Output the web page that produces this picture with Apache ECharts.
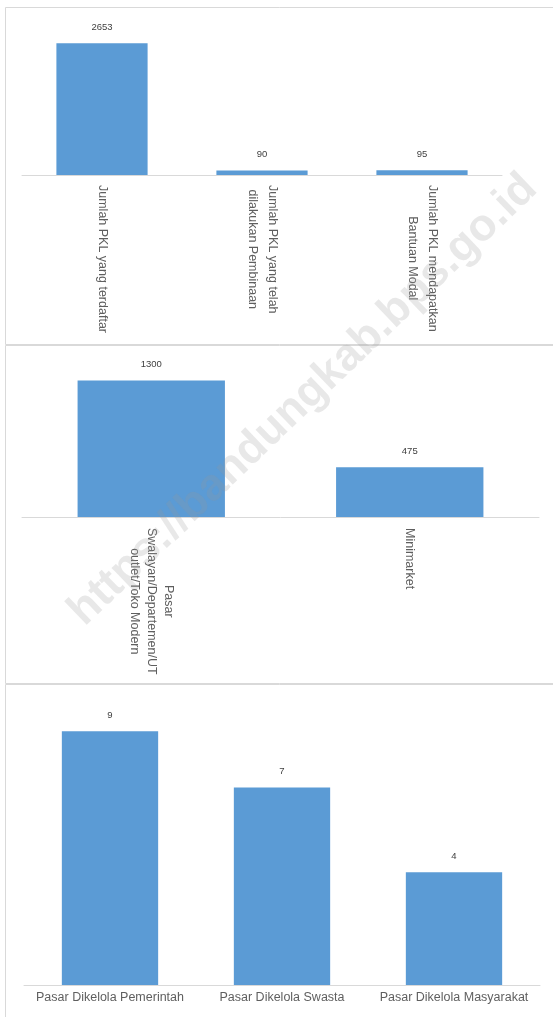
<!DOCTYPE html>
<html><head><meta charset="utf-8">
<script src="https://cdn.jsdelivr.net/npm/echarts@6/dist/echarts.min.js"></script>
<style>html,body{margin:0;padding:0;background:#fff}#c{width:553px;height:1017px}</style>
</head><body><div id="c"></div>
<script>
// ---- data ----
const pklCategories = ['Jumlah PKL yang terdaftar', 'Jumlah PKL yang telah\ndilakukan Pembinaan', 'Jumlah PKL mendapatkan\nBantuan Modal'];
const pklValues = [2653, 90, 95];
const tokoCategories = ['Pasar\nSwalayan/Departemen/UT\noutlet/Toko Modern', 'Minimarket'];
const tokoValues = [1300, 475];
const pasarCategories = ['Pasar Dikelola Pemerintah', 'Pasar Dikelola Swasta', 'Pasar Dikelola Masyarakat'];
const pasarValues = [9, 7, 4];
const watermarkText = 'https://bandungkab.bps.go.id';

// ---- styles ----
const FONT = '"Liberation Sans", Arial, sans-serif';
const BAR = '#5b9bd5';
const TXT = '#5f5f5f';
const LINE = '#d9d9d9';
const FS = 12.5;

function rotLabel(lh, margin) {
  return {
    interval: 0, rotate: -90, margin: margin, color: TXT, fontFamily: FONT, fontSize: FS,
    formatter: v => v.split('\n').map(l => '{c|' + l + '}').join('\n'),
    rich: { c: { align: 'center', fontSize: FS, lineHeight: lh, color: TXT, fontFamily: FONT } }
  };
}
function xAx(idx, cats, label) {
  return {
    type: 'category', gridIndex: idx, data: cats,
    axisLine: { lineStyle: { color: LINE, width: 1 } },
    axisTick: { show: false }, axisLabel: label
  };
}
function yAx(idx, max) {
  return { type: 'value', gridIndex: idx, min: 0, max: max, show: false, splitLine: { show: false } };
}
function ser(idx, vals, gap) {
  return {
    type: 'bar', xAxisIndex: idx, yAxisIndex: idx, data: vals, barCategoryGap: gap,
    itemStyle: { color: BAR },
    label: { show: true, position: 'top', distance: 11, fontSize: 9.5, color: '#404040', fontFamily: FONT }
  };
}

const chart = echarts.init(document.getElementById('c'), null, { renderer: 'canvas' });
chart.setOption({
  backgroundColor: '#fff',
  animation: false,
  grid: [
    { left: 22, right: 51, top: 26, height: 149 },
    { left: 22, right: 14, top: 370, height: 147 },
    { left: 24, right: 13, top: 703, height: 282 }
  ],
  xAxis: [
    xAx(0, pklCategories, rotLabel(20, 10)),
    xAx(1, tokoCategories, rotLabel(17, 11)),
    xAx(2, pasarCategories, { interval: 0, margin: 6, color: TXT, fontFamily: FONT, fontSize: FS })
  ],
  yAxis: [yAx(0, 3000), yAx(1, 1400), yAx(2, 10)],
  series: [ser(0, pklValues, '43%'), ser(1, tokoValues, '43%'), ser(2, pasarValues, '44%')],
  graphic: [
    { type: 'rect', silent: true, z: -1, shape: { x: 5.5, y: 7.5, width: 560, height: 337 }, style: { fill: null, stroke: LINE, lineWidth: 1 } },
    { type: 'rect', silent: true, z: -1, shape: { x: 5.5, y: 345.5, width: 560, height: 338 }, style: { fill: null, stroke: LINE, lineWidth: 1 } },
    { type: 'rect', silent: true, z: -1, shape: { x: 5.5, y: 684.5, width: 560, height: 340 }, style: { fill: null, stroke: LINE, lineWidth: 1 } },
    { type: 'text', silent: true, z: 100, x: 303, y: 400, rotation: 0.765,
      style: { text: watermarkText, font: 'bold 45px ' + FONT, fill: 'rgba(150,150,150,0.22)', align: 'center', verticalAlign: 'middle' } }
  ]
});
</script></body></html>
